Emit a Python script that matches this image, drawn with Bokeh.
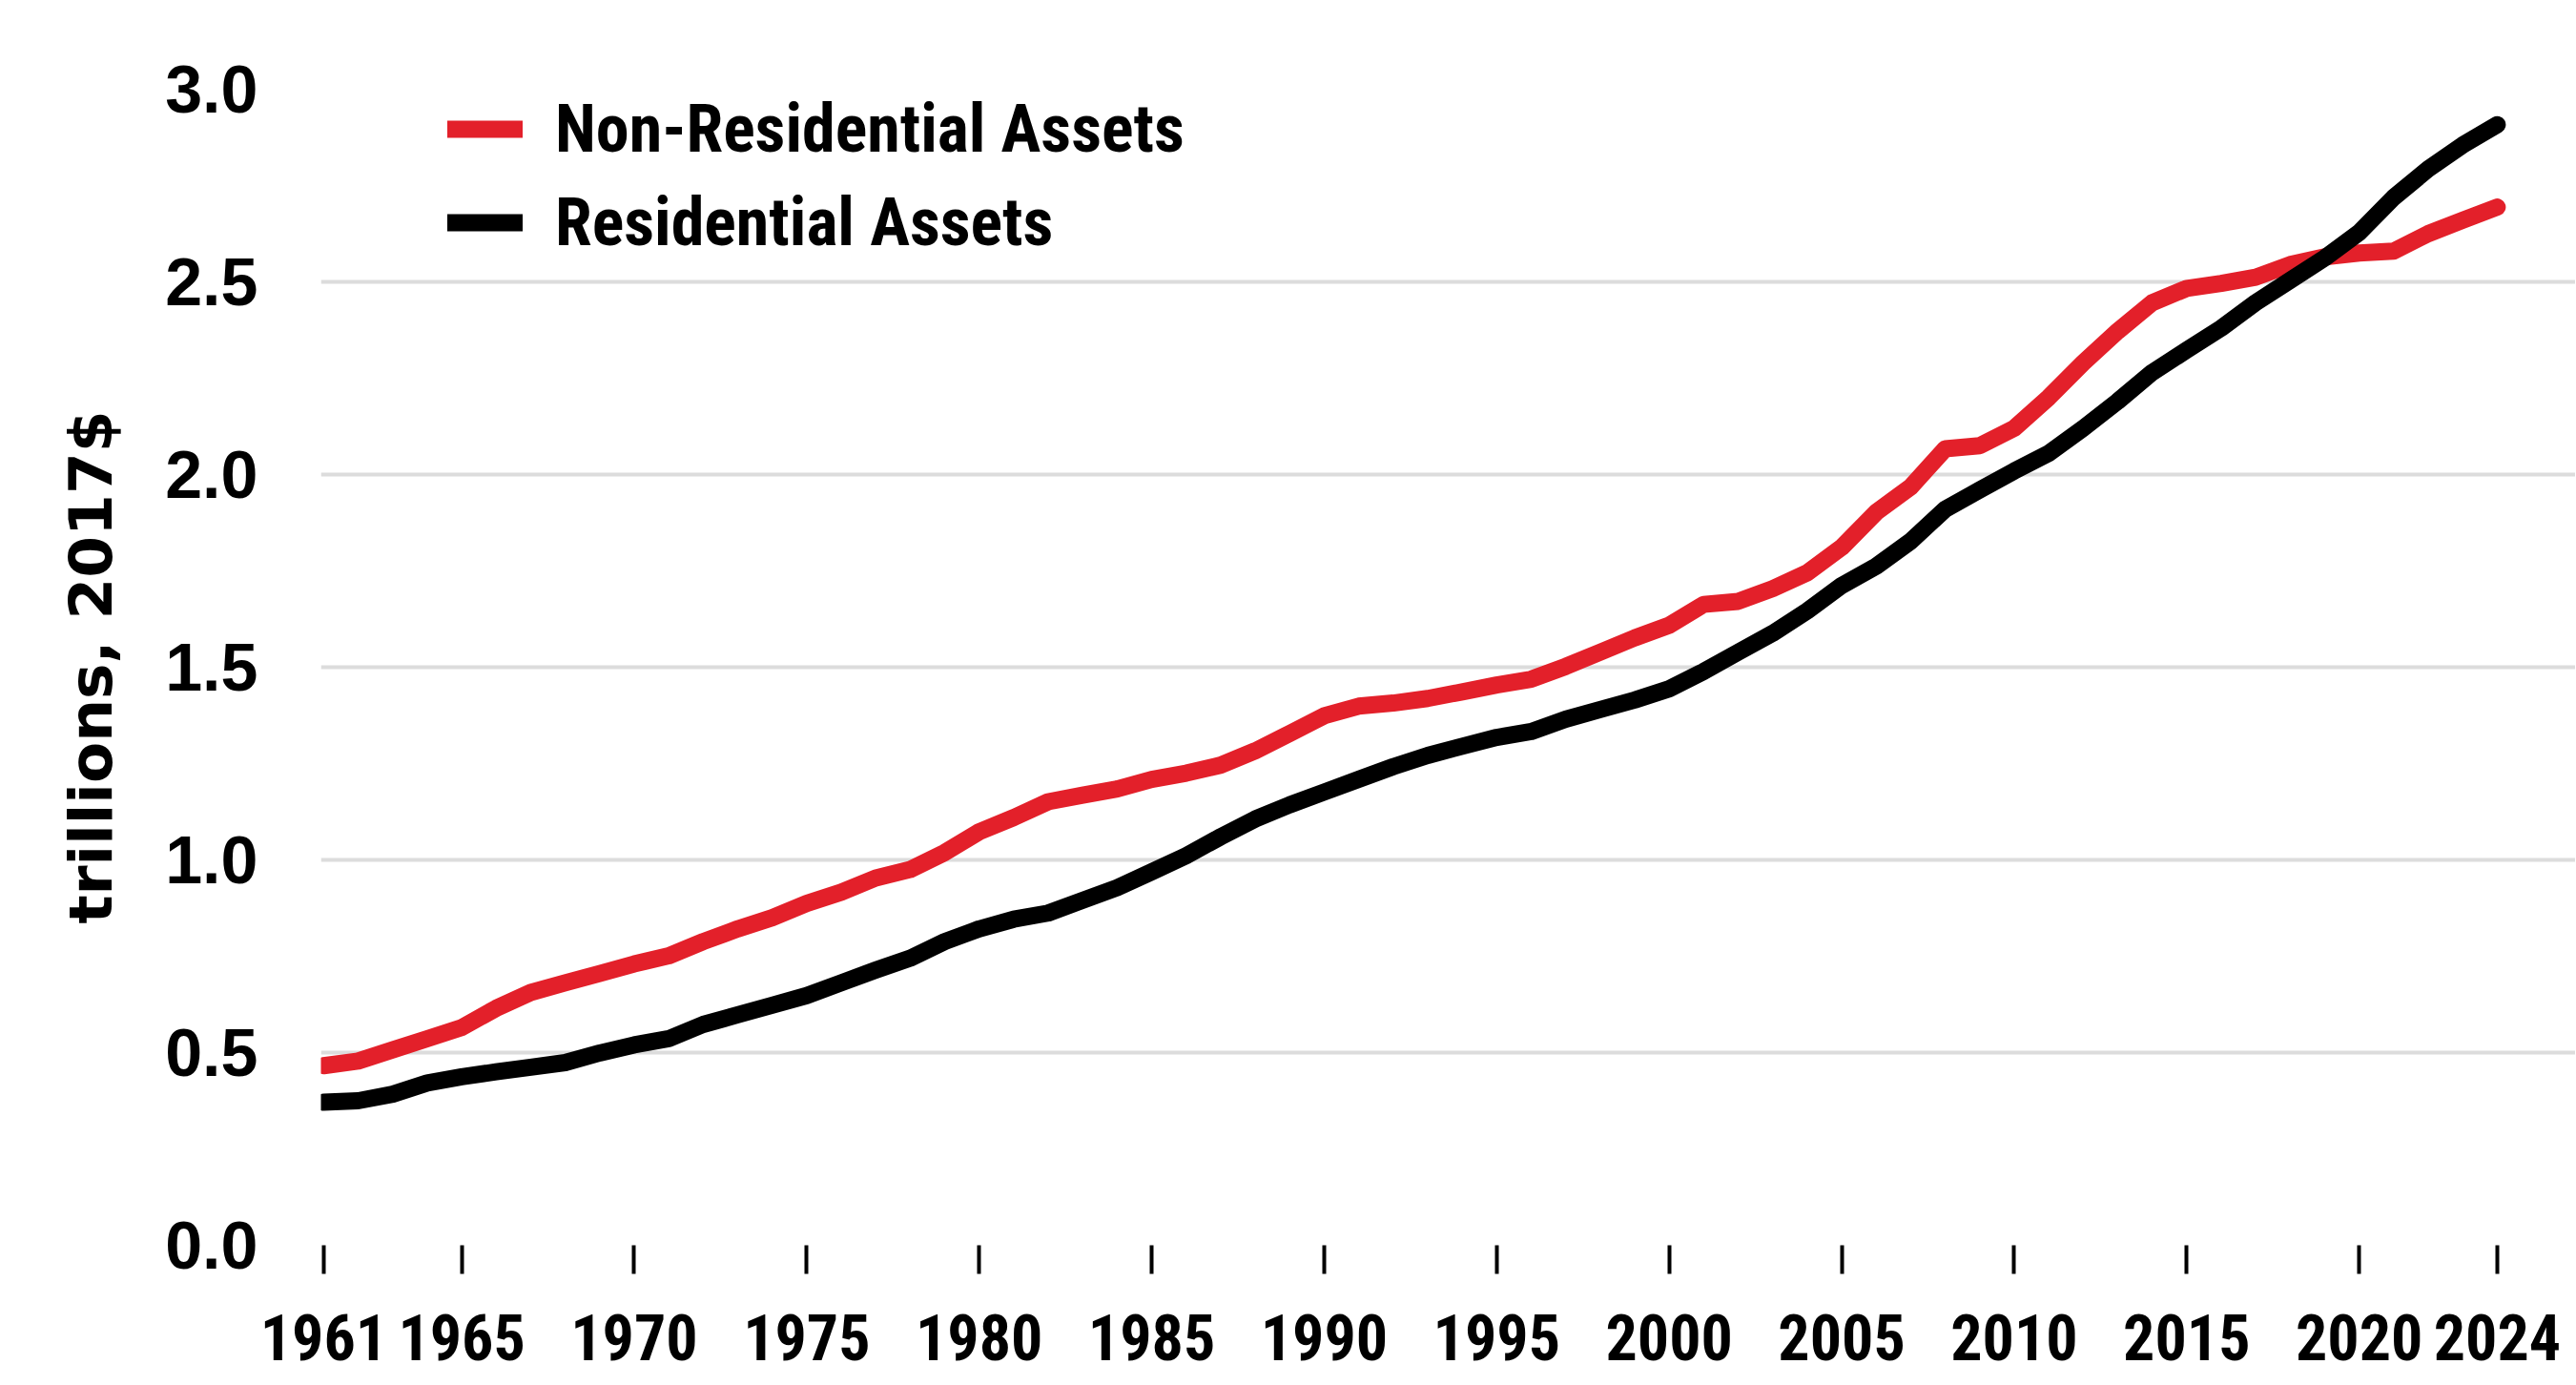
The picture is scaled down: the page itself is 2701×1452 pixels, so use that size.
from bokeh.plotting import figure
from bokeh.models import Range1d, FixedTicker, PrintfTickFormatter, Legend, LegendItem
from bokeh.embed import file_html
from bokeh.resources import INLINE

years = list(range(1961, 2025))

non_residential = [
    0.466, 0.478, 0.507, 0.536, 0.565, 0.615, 0.656, 0.681, 0.705, 0.730,
    0.751, 0.788, 0.821, 0.850, 0.887, 0.916, 0.953, 0.975, 1.019, 1.073,
    1.110, 1.151, 1.168, 1.184, 1.209, 1.225, 1.246, 1.283, 1.328, 1.374,
    1.399, 1.407, 1.419, 1.436, 1.454, 1.469, 1.502, 1.539, 1.576, 1.609,
    1.663, 1.671, 1.704, 1.745, 1.811, 1.902, 1.968, 2.067, 2.075, 2.120,
    2.200, 2.290, 2.372, 2.446, 2.483, 2.496, 2.512, 2.545, 2.565, 2.575,
    2.580, 2.625, 2.660, 2.694,
]

residential = [
    0.371, 0.375, 0.392, 0.421, 0.437, 0.450, 0.462, 0.474, 0.499, 0.520,
    0.536, 0.573, 0.598, 0.623, 0.648, 0.681, 0.714, 0.745, 0.788, 0.821,
    0.846, 0.862, 0.895, 0.928, 0.969, 1.011, 1.060, 1.106, 1.143, 1.176,
    1.209, 1.242, 1.271, 1.295, 1.318, 1.333, 1.365, 1.390, 1.415, 1.444,
    1.489, 1.539, 1.588, 1.646, 1.712, 1.762, 1.827, 1.910, 1.960, 2.009,
    2.055, 2.120, 2.190, 2.265, 2.323, 2.380, 2.446, 2.504, 2.562, 2.628,
    2.719, 2.793, 2.855, 2.908,
]

x_ticks = [1961, 1965, 1970, 1975, 1980, 1985, 1990, 1995, 2000, 2005, 2010, 2015, 2020, 2024]
y_ticks = [0.0, 0.5, 1.0, 1.5, 2.0, 2.5, 3.0]
series_names = ["Non-Residential Assets", "Residential Assets"]
series_colors = ["#e3202a", "#000000"]

COND = "'Roboto Condensed', 'Liberation Sans Narrow', Roboto"

p = figure(
    width=2700, height=1450,
    output_backend="svg", toolbar_location=None,
    x_range=Range1d(1960.92, 2026.27), y_range=Range1d(0, 3.0),
    min_border_left=336, min_border_right=0, min_border_top=93, min_border_bottom=145,
)
p.outline_line_color = None
p.background_fill_color = "white"
p.border_fill_color = "white"

r1 = p.line(years, non_residential, line_color=series_colors[0], line_width=18,
            line_cap="round", line_join="round")
r2 = p.line(years, residential, line_color=series_colors[1], line_width=18,
            line_cap="round", line_join="round")

# x axis
xa = p.xaxis[0]
xa.ticker = FixedTicker(ticks=x_ticks)
xa.axis_line_color = None
xa.major_tick_out = 30
xa.major_tick_in = 0
xa.major_tick_line_width = 4
xa.major_tick_line_color = "black"
xa.minor_tick_line_color = None
xa.major_label_standoff = 42
xa.major_label_text_font = COND
xa.major_label_text_font_style = "bold"
xa.major_label_text_font_size = "66px"
xa.major_label_text_color = "black"

# y axis
ya = p.yaxis[0]
ya.ticker = FixedTicker(ticks=y_ticks)
ya.formatter = PrintfTickFormatter(format="%.1f")
ya.axis_line_color = None
ya.major_tick_out = 0
ya.major_tick_in = 0
ya.minor_tick_line_color = None
ya.major_label_standoff = 66
ya.major_label_text_font = "Liberation Sans"
ya.major_label_text_font_style = "bold"
ya.major_label_text_font_size = "70px"
ya.major_label_text_color = "black"
ya.axis_label = "trillions, 2017$"
ya.axis_label_text_font = "DejaVu Sans"
ya.axis_label_text_font_style = "bold"
ya.axis_label_text_font_size = "63px"
ya.axis_label_text_color = "black"
ya.axis_label_standoff = 38

p.xgrid.grid_line_color = None
p.ygrid.grid_line_color = "#dcdcdc"
p.ygrid.grid_line_width = 4

legend = Legend(
    items=[LegendItem(label=series_names[0], renderers=[r1]),
           LegendItem(label=series_names[1], renderers=[r2])],
    location=(133, 1031),
    orientation="vertical",
    glyph_width=79, glyph_height=40,
    label_standoff=34,
    spacing=16,
    padding=0, margin=0,
    border_line_color=None,
    background_fill_alpha=0,
    label_text_font=COND,
    label_text_font_style="bold",
    label_text_font_size="70px",
    label_text_color="black",
)
p.add_layout(legend)

open("out.html", "w").write(file_html(p, INLINE))
